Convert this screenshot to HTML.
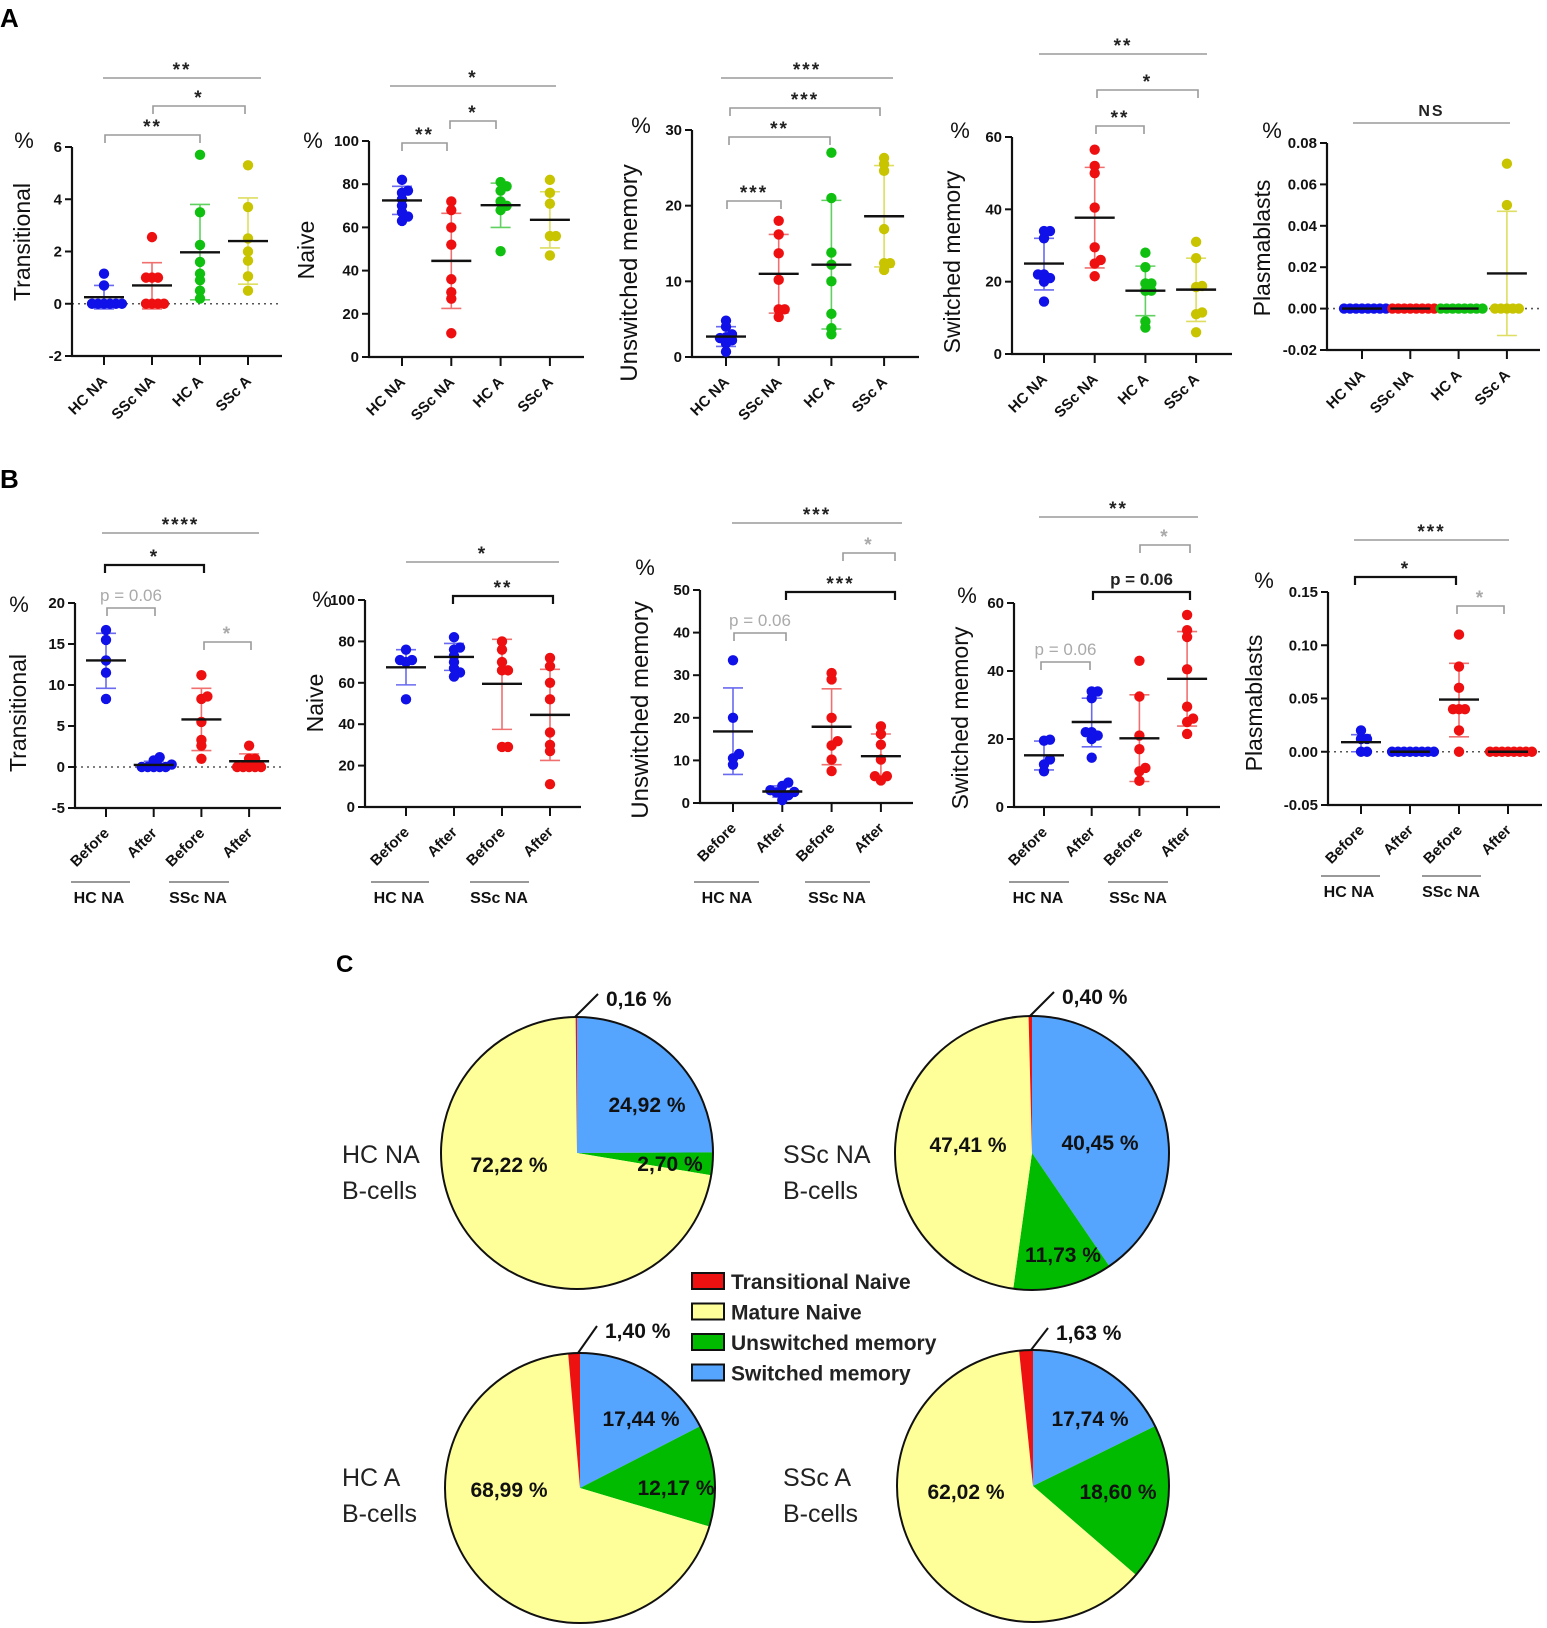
<!DOCTYPE html>
<html><head><meta charset="utf-8"><style>
html,body{margin:0;padding:0;background:#fff}
svg{display:block;font-family:"Liberation Sans",sans-serif}
</style></head><body>
<svg id="fig" width="1547" height="1628" viewBox="0 0 1547 1628" xmlns="http://www.w3.org/2000/svg">
<text x="0" y="27" font-size="26" font-weight="bold">A</text>
<text x="0" y="488" font-size="26" font-weight="bold">B</text>
<text x="336" y="972" font-size="24" font-weight="bold">C</text>
</svg>
<script>
// ---------- data ----------
const catsA = ["HC NA","SSc NA","HC A","SSc A"];
const catsB = ["Before","After","Before","After"];
const colorsA = ["#1010e8","#ee1010","#10c010","#c8c400"];
const colorsB = ["#1010e8","#1010e8","#ee1010","#ee1010"];

const a1Values = [[0,0,0,0,0,0,0.7,1.15],[0,0,0,0,1,1,1,2.55],[5.7,3.5,2.25,1.6,0.9,1.15,0.5,0.2],[5.3,3.7,2.5,2.0,1.65,1.05,0.5]];
const a1Means = [0.25,0.7,1.97,2.4];
const a1Upper = [0.7,1.57,3.8,4.05];
const a1Lower = [-0.2,-0.2,0.15,0.75];
const a1Ticks = [-2,0,2,4,6];

const a2Values = [[82,77,76,73,70,67,65,63],[72,68,60,52,36,30,27,11],[81,79,77,72,70,68,49],[82,76,71,56,56,47]];
const a2Means = [72.5,44.5,70.3,63.5];
const a2Upper = [79,66.5,80.5,76.5];
const a2Lower = [66,22.5,60,50.5];
const a2Ticks = [0,20,40,60,80,100];

const a3Values = [[4.8,4,3,2.5,2.2,1.8,0.7,2.6],[18,16.2,13.7,10.2,6.3,6.3,5.3],[27,21,13.8,12.2,10,5.7,3.8,3],[26.3,25.5,24.6,16.9,12.4,12.4,11.5]];
const a3Means = [2.7,11,12.2,18.6];
const a3Upper = [4,16.2,20.7,25.3];
const a3Lower = [1.4,5.8,3.7,11.9];
const a3Ticks = [0,10,20,30];

const a4Values = [[34,34,32,22,22,21,20,14.5],[56.5,52,50,40.5,29.5,26,25,21.5],[28,24,19.5,19.5,17.5,17.5,7.3,9],[31,26.5,18.8,18.5,11.5,11,6]];
const a4Means = [25,37.7,17.5,17.8];
const a4Upper = [32,51.6,24.3,26.5];
const a4Lower = [17.7,23.8,10.6,9];
const a4Ticks = [0,20,40,60];

const a5Values = [[0,0,0,0,0,0,0,0],[0,0,0,0,0,0,0,0],[0,0,0,0,0,0,0,0],[0.07,0.05,0,0,0,0,0]];
const a5Means = [0,0,0,0.017];
const a5Upper = [0,0,0,0.047];
const a5Lower = [0,0,0,-0.013];
const a5Ticks = [-0.02,0,0.02,0.04,0.06,0.08];

const b1Values = [[16.7,15.5,13,11.5,8.3],[1.2,0.8,0.3,0,0,0,0,0],[11.2,8.6,8.3,5.5,3.3,2.6,1],[2.6,1,1,0,0,0,0,0]];
const b1Means = [13,0.25,5.8,0.7];
const b1Upper = [16.3,0.7,9.6,1.6];
const b1Lower = [9.6,-0.2,2,-0.2];
const b1Ticks = [-5,0,5,10,15,20];

const b2Values = [[76,71,70,71,52],[82,77,76,73,70,67,65,63],[80,76,70,66,66,29,29],[72,68,60,52,36,30,27,11]];
const b2Means = [67.5,72.5,59.5,44.5];
const b2Upper = [76,79,81,66.5];
const b2Lower = [59,66,37.5,22.5];
const b2Ticks = [0,20,40,60,80,100];

const b3Values = [[33.5,20,11.5,10.5,9],[4.8,4,3,2.5,2.2,1.8,0.7,2.6],[30.5,29,20,14.5,13.5,10.2,7.5],[18,16.2,13.7,10.2,6.3,6.3,5.3]];
const b3Means = [16.8,2.7,17.9,11];
const b3Upper = [27,4,26.8,16.2];
const b3Lower = [6.7,1.4,9,5.8];
const b3Ticks = [0,10,20,30,40,50];

const b4Values = [[19.8,19.5,14,12.5,10.5],[34,34,32,22,22,21,20,14.5],[43,32.5,21,17,11.5,10.5,7.7],[56.5,52,50,40.5,29.5,26,25,21.5]];
const b4Means = [15.2,25,20.2,37.7];
const b4Upper = [19.4,32,33,51.6];
const b4Lower = [10.9,17.7,7.5,23.8];
const b4Ticks = [0,20,40,60];

const b5Values = [[0.02,0.012,0.012,0,0],[0,0,0,0,0,0,0,0],[0.11,0.08,0.06,0.04,0.04,0.04,0.02,0],[0,0,0,0,0,0,0,0]];
const b5Means = [0.009,0,0.049,0];
const b5Upper = [0.016,0,0.083,0];
const b5Lower = [0,0,0.014,0];
const b5Ticks = [-0.05,0,0.05,0.10,0.15];

const pieNames = ["HC NA","SSc NA","HC A","SSc A"];
const pieSwitched = [24.92,40.45,17.44,17.74];
const pieUnswitched = [2.70,11.73,12.17,18.60];
const pieMature = [72.22,47.41,68.99,62.02];
const pieTransitional = [0.16,0.40,1.40,1.63];
const legendLabels = ["Transitional Naive","Mature Naive","Unswitched memory","Switched memory"];
const legendColors = ["#ee1111","#ffff99","#00bb00","#55a5ff"];

// ---------- helpers ----------
const NS="http://www.w3.org/2000/svg";
const svg=document.getElementById('fig');
function mk(tag,attrs,parent,text){const e=document.createElementNS(NS,tag);for(const k in attrs)e.setAttribute(k,attrs[k]);if(text!==undefined)e.textContent=text;(parent||svg).appendChild(e);return e;}
function lighten(c){return c==="#1010e8"?"#6a6af0":c==="#ee1010"?"#f07070":c==="#10c010"?"#60d060":"#dede60";}

function chart(id,L,cats,colors,values,means,upper,lower,ticks){
  const g=mk('g',{});
  
  
  const ymin=ticks[0],ymax=ticks[ticks.length-1];
  const Y=v=>L.yBot-(v-ymin)/(ymax-ymin)*(L.yBot-L.yTop);
  const X=i=>L.c0+i*L.step;
  if(ymin<0){const zl=mk('line',{x1:L.ax,x2:L.axR,y1:Y(0),y2:Y(0),stroke:'#555','stroke-width':1.6,'stroke-dasharray':'2,4'},g);}
  const ya=mk('line',{x1:L.ax,x2:L.ax,y1:L.yTop,y2:L.yBot+1,stroke:'#111','stroke-width':2.2},g);
  
  const xa=mk('line',{x1:L.ax-1,x2:L.axR,y1:L.yBot,y2:L.yBot,stroke:'#111','stroke-width':2.2},g);
  
  const dec=Math.abs(ymax)<1?2:0;
  ticks.forEach(t=>{
    mk('line',{x1:L.ax-7,x2:L.ax,y1:Y(t),y2:Y(t),stroke:'#111','stroke-width':2},g);
    const tl=mk('text',{x:L.ax-10,y:Y(t)+5,'font-size':15,'font-weight':'bold','text-anchor':'end',fill:'#111'},g,t.toFixed(dec));
    
  });
  cats.forEach((c,i)=>{
    mk('line',{x1:X(i),x2:X(i),y1:L.yBot,y2:L.yBot+9,stroke:'#111','stroke-width':2},g);
    const tx=X(i)+4,ty=L.yBot+26;
    const cl=mk('text',{x:tx,y:ty,'font-size':15,'font-weight':'bold','text-anchor':'end',transform:`rotate(-45 ${tx} ${ty})`,fill:'#111'},g,c);
    
  });
  const pc=mk('text',{x:L.px,y:L.py,'font-size':22,'text-anchor':'middle',fill:'#111'},g,'%');
  
  const tt=mk('text',{x:L.tx,y:L.ty,'font-size':L.tfs||23,'text-anchor':'middle',transform:`rotate(-90 ${L.tx} ${L.ty})`,fill:'#111'},g,L.title);
  
  const r=5.2;
  values.forEach((vals,i)=>{
    const col=colors[i],lc=lighten(col),cx=X(i);
    const sg=mk('g',{},g);
    
    
    if(upper[i]!==lower[i]){
      mk('line',{x1:cx,x2:cx,y1:Y(upper[i]),y2:Y(lower[i]),stroke:lc,'stroke-width':1.6},sg);
      mk('line',{x1:cx-10,x2:cx+10,y1:Y(upper[i]),y2:Y(upper[i]),stroke:lc,'stroke-width':1.6},sg);
      mk('line',{x1:cx-10,x2:cx+10,y1:Y(lower[i]),y2:Y(lower[i]),stroke:lc,'stroke-width':1.6},sg);
    }
    const placed=[];const sorted=vals.slice().sort((a,b)=>a-b);
    sorted.forEach(v=>{
      const py=Y(v);
      for(let k=0;k<20;k++){
        const off=(k%2?1:-1)*Math.ceil(k/2)*r*1.15;
        const px=cx+off;
        if(k===19||placed.every(p=>Math.hypot(p[0]-px,p[1]-py)>=r*1.1)){placed.push([px,py]);break;}
      }
    });
    placed.forEach(p=>{
      const c=mk('circle',{cx:p[0],cy:p[1],r:r,fill:col},sg);
      
      
    });
    const m=mk('line',{x1:cx-20,x2:cx+20,y1:Y(means[i]),y2:Y(means[i]),stroke:'#111','stroke-width':2.4},sg);
    
    
  });
  return g;
}
function ann(x1,x2,y,label,kind){
  const g=mk('g',{});
  
  
  const lcol=kind==='bb'?'#111':'#9a9a9a';
  const tcol=kind==='bg'?'#aaaaaa':'#222';
  const sw=kind==='bb'?2.2:1.6;
  if(kind==='line') mk('line',{x1,x2,y1:y,y2:y,stroke:lcol,'stroke-width':sw},g);
  else mk('path',{d:`M${x1},${y+8}V${y}H${x2}V${y+8}`,fill:'none',stroke:lcol,'stroke-width':sw},g);
  const isP=label.startsWith('p');
  mk('text',{x:(x1+x2)/2,y:isP?y-7:(label==='NS'?y-7:y-2),'font-size':isP?17:(label==='NS'?16:19),'font-weight':(isP&&kind==='bg')?'normal':'bold','text-anchor':'middle',fill:tcol,'letter-spacing':isP?0:2},g,label);
}

// ---------- charts ----------
chart('chart-a-transitional',{ax:72,axR:282,yTop:147,yBot:356,c0:104,step:48,px:24,py:148,tx:30,ty:242,title:'Transitional'},catsA,colorsA,a1Values,a1Means,a1Upper,a1Lower,a1Ticks);
chart('chart-a-naive',{ax:369,axR:584,yTop:141,yBot:357,c0:402,step:49.3,px:313,py:148,tx:314,ty:250,title:'Naive'},catsA,colorsA,a2Values,a2Means,a2Upper,a2Lower,a2Ticks);
chart('chart-a-unswitched',{ax:692,axR:919,yTop:130,yBot:357,c0:726,step:52.7,px:641,py:133,tx:637,ty:273,title:'Unswitched memory',tfs:24},catsA,colorsA,a3Values,a3Means,a3Upper,a3Lower,a3Ticks);
chart('chart-a-switched',{ax:1012,axR:1232,yTop:137,yBot:354,c0:1044,step:50.7,px:960,py:138,tx:960,ty:262,title:'Switched memory'},catsA,colorsA,a4Values,a4Means,a4Upper,a4Lower,a4Ticks);
chart('chart-a-plasmablasts',{ax:1327,axR:1540,yTop:143,yBot:350,c0:1362,step:48.3,px:1272,py:138,tx:1270,ty:248,title:'Plasmablasts'},catsA,colorsA,a5Values,a5Means,a5Upper,a5Lower,a5Ticks);

chart('chart-b-transitional',{ax:75,axR:281,yTop:603,yBot:808,c0:106,step:47.7,px:19,py:612,tx:26,ty:713,title:'Transitional'},catsB,colorsB,b1Values,b1Means,b1Upper,b1Lower,b1Ticks);
chart('chart-b-naive',{ax:365,axR:581,yTop:600,yBot:807,c0:406,step:48,px:322,py:607,tx:323,ty:703,title:'Naive'},catsB,colorsB,b2Values,b2Means,b2Upper,b2Lower,b2Ticks);
chart('chart-b-unswitched',{ax:700,axR:913,yTop:590,yBot:803,c0:733,step:49.3,px:645,py:575,tx:648,ty:710,title:'Unswitched memory',tfs:24},catsB,colorsB,b3Values,b3Means,b3Upper,b3Lower,b3Ticks);
chart('chart-b-switched',{ax:1014,axR:1220,yTop:603,yBot:807,c0:1044,step:47.7,px:967,py:603,tx:968,ty:718,title:'Switched memory'},catsB,colorsB,b4Values,b4Means,b4Upper,b4Lower,b4Ticks);
chart('chart-b-plasmablasts',{ax:1328,axR:1542,yTop:592,yBot:805,c0:1361,step:49,px:1264,py:588,tx:1262,ty:703,title:'Plasmablasts'},catsB,colorsB,b5Values,b5Means,b5Upper,b5Lower,b5Ticks);

[[71,130,99,'HC NA'],[169,229,198,'SSc NA'],[371,429,399,'HC NA'],[470,529,499,'SSc NA'],[694,759,727,'HC NA'],[805,870,837,'SSc NA'],[1009,1069,1038,'HC NA'],[1108,1168,1138,'SSc NA']].forEach(a=>{
  mk('line',{x1:a[0],x2:a[1],y1:882,y2:882,stroke:'#999','stroke-width':2});
  const t=mk('text',{x:a[2],y:903,'font-size':16,'font-weight':'bold','text-anchor':'middle',fill:'#111'},svg,a[3]);
  
});
[[1321,1380,1349,'HC NA'],[1422,1481,1451,'SSc NA']].forEach(a=>{
  mk('line',{x1:a[0],x2:a[1],y1:876,y2:876,stroke:'#999','stroke-width':2});
  const t=mk('text',{x:a[2],y:897,'font-size':16,'font-weight':'bold','text-anchor':'middle',fill:'#111'},svg,a[3]);
  
});

ann(103,261,78,'**','line');ann(153,245,106,'*','br');ann(105,200,135,'**','br');
ann(390,556,86,'*','line');ann(450,496,121,'*','br');ann(402,447,143,'**','br');
ann(721,893,78,'***','line');ann(730,880,108,'***','br');ann(729,830,137,'**','br');ann(727,781,201,'***','br');
ann(1039,1207,54,'**','line');ann(1097,1198,90,'*','br');ann(1096,1144,126,'**','br');
ann(1353,1510,123,'NS','line');
ann(102,259,533,'****','line');ann(105,204,565,'*','bb');ann(107,155,608,'p = 0.06','bg');ann(204,251,642,'*','bg');
ann(406,559,562,'*','line');ann(453,553,596,'**','bb');
ann(732,902,523,'***','line');ann(843,895,553,'*','bg');ann(786,895,592,'***','bb');ann(734,786,633,'p = 0.06','bg');
ann(1039,1198,517,'**','line');ann(1140,1190,545,'*','bg');ann(1093,1190,592,'p = 0.06','bb');ann(1041,1090,662,'p = 0.06','bg');
ann(1354,1509,540,'***','line');ann(1355,1456,577,'*','bb');ann(1457,1504,606,'*','bg');

// ---------- pies ----------
const pieLayout=[
 {cx:577,cy:1153,r:136,lx:342,ly:1154,tx:606,ty:999,labels:[[647,1105],[670,1164],[509,1165]]},
 {cx:1032,cy:1153,r:137,lx:783,ly:1154,tx:1062,ty:997,labels:[[1100,1143],[1063,1255],[968,1145]]},
 {cx:580,cy:1488,r:135,lx:342,ly:1477,tx:605,ty:1331,labels:[[641,1419],[676,1488],[509,1490]]},
 {cx:1033,cy:1486,r:136,lx:783,ly:1477,tx:1056,ty:1333,labels:[[1090,1419],[1118,1492],[966,1492]]}
];
const sliceColors=["#55a5ff","#00bb00","#ffff99","#ee1111"];
function f2(v){return v.toFixed(2).replace('.',',')+' %';}
pieNames.forEach((nm,p)=>{
  const L=pieLayout[p];
  const vals=[pieSwitched[p],pieUnswitched[p],pieMature[p],pieTransitional[p]];
  const tot=vals.reduce((a,b)=>a+b,0);
  const g=mk('g',{});
  
  
  let a=0;
  vals.forEach((v,i)=>{
    const a0=a/tot*2*Math.PI,a1=(a+v)/tot*2*Math.PI;a+=v;
    const x0=L.cx+L.r*Math.sin(a0),y0=L.cy-L.r*Math.cos(a0),x1=L.cx+L.r*Math.sin(a1),y1=L.cy-L.r*Math.cos(a1);
    const s=mk('path',{d:`M${L.cx},${L.cy}L${x0},${y0}A${L.r},${L.r} 0 ${a1-a0>Math.PI?1:0} 1 ${x1},${y1}Z`,fill:sliceColors[i]},g);
    
    
  });
  mk('circle',{cx:L.cx,cy:L.cy,r:L.r,fill:'none',stroke:'#111','stroke-width':2},g);
  [0,1,2].forEach(i=>{
    const t=mk('text',{x:L.labels[i][0],y:L.labels[i][1]+7,'font-size':21,'font-weight':'bold','text-anchor':'middle',fill:'#111'},g,f2(vals[i]));
    
  });
  mk('path',{d:`M${L.cx-2},${L.cy-L.r}L${L.tx-8},${L.ty-5}`,stroke:'#111','stroke-width':2,fill:'none'},g);
  const tl=mk('text',{x:L.tx,y:L.ty+7,'font-size':21,'font-weight':'bold',fill:'#111'},g,f2(vals[3]));
  
  const n1=mk('text',{x:L.lx,y:L.ly+9,'font-size':25,fill:'#222'},g,nm);
  
  mk('text',{x:L.lx,y:L.ly+45,'font-size':25,fill:'#222'},g,'B-cells');
});
const lg=mk('g',{});


legendLabels.forEach((lab,i)=>{
  const y=1281+i*30.5;
  mk('rect',{x:692,y:y-8,width:32,height:16,fill:legendColors[i],stroke:'#111','stroke-width':2},lg);
  const t=mk('text',{x:731,y:y+8,'font-size':21,'font-weight':'bold',fill:'#222'},lg,lab);
  
});
</script>
</body></html>
